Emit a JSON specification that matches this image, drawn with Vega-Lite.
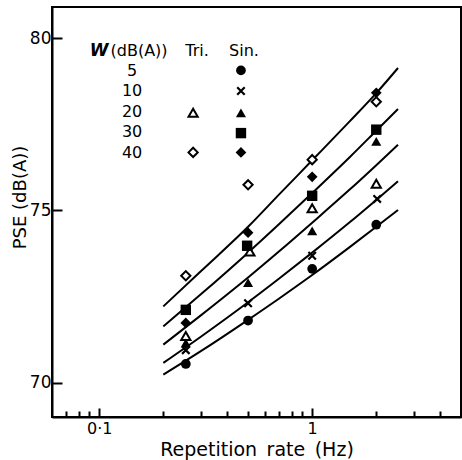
{
  "$schema": "https://vega.github.io/schema/vega-lite/v6.json",
  "width": 409,
  "height": 410,
  "autosize": {"type": "none"},
  "padding": {"left": 52, "top": 7, "right": 1, "bottom": 43},
  "background": "white",
  "config": {
    "view": {"stroke": "black", "strokeWidth": 2},
    "font": "DejaVu Sans",
    "axis": {"grid": false, "domainColor": "black", "domainWidth": 2, "tickColor": "black", "tickWidth": 2, "labelColor": "black", "titleColor": "black", "labelFont": "DejaVu Sans", "titleFont": "DejaVu Sans", "titleFontWeight": "normal"}
  },
  "resolve": {"scale": {"shape": "independent", "size": "independent"}},
  "datasets": {
    "lines": [
      {"f": 0.2, "pse": 72.21, "line": "L1"}, {"f": 0.3, "pse": 73.23, "line": "L1"}, {"f": 0.5, "pse": 74.52, "line": "L1"}, {"f": 0.7, "pse": 75.46, "line": "L1"}, {"f": 1, "pse": 76.45, "line": "L1"}, {"f": 1.5, "pse": 77.58, "line": "L1"}, {"f": 2, "pse": 78.4, "line": "L1"}, {"f": 2.53, "pse": 79.13, "line": "L1"},
      {"f": 0.2, "pse": 71.63, "line": "L2"}, {"f": 0.3, "pse": 72.56, "line": "L2"}, {"f": 0.5, "pse": 73.77, "line": "L2"}, {"f": 0.7, "pse": 74.6, "line": "L2"}, {"f": 1, "pse": 75.5, "line": "L2"}, {"f": 1.5, "pse": 76.54, "line": "L2"}, {"f": 2, "pse": 77.31, "line": "L2"}, {"f": 2.53, "pse": 77.94, "line": "L2"},
      {"f": 0.2, "pse": 71.1, "line": "L3"}, {"f": 0.3, "pse": 71.95, "line": "L3"}, {"f": 0.5, "pse": 73.05, "line": "L3"}, {"f": 0.7, "pse": 73.81, "line": "L3"}, {"f": 1, "pse": 74.64, "line": "L3"}, {"f": 1.5, "pse": 75.6, "line": "L3"}, {"f": 2, "pse": 76.31, "line": "L3"}, {"f": 2.53, "pse": 76.9, "line": "L3"},
      {"f": 0.2, "pse": 70.57, "line": "L4"}, {"f": 0.3, "pse": 71.33, "line": "L4"}, {"f": 0.5, "pse": 72.33, "line": "L4"}, {"f": 0.7, "pse": 73.02, "line": "L4"}, {"f": 1, "pse": 73.77, "line": "L4"}, {"f": 1.5, "pse": 74.65, "line": "L4"}, {"f": 2, "pse": 75.3, "line": "L4"}, {"f": 2.53, "pse": 75.84, "line": "L4"},
      {"f": 0.2, "pse": 70.23, "line": "L5"}, {"f": 0.3, "pse": 70.91, "line": "L5"}, {"f": 0.5, "pse": 71.82, "line": "L5"}, {"f": 0.7, "pse": 72.44, "line": "L5"}, {"f": 1, "pse": 73.12, "line": "L5"}, {"f": 1.5, "pse": 73.93, "line": "L5"}, {"f": 2, "pse": 74.52, "line": "L5"}, {"f": 2.53, "pse": 75.01, "line": "L5"}
    ],
    "tri": [
      {"f": 0.255, "pse": 73.1, "w": "40"}, {"f": 0.255, "pse": 71.35, "w": "20"},
      {"f": 0.5, "pse": 75.74, "w": "40"}, {"f": 0.51, "pse": 73.8, "w": "20"},
      {"f": 1, "pse": 76.47, "w": "40"}, {"f": 1, "pse": 75.06, "w": "20"},
      {"f": 2, "pse": 78.15, "w": "40"}, {"f": 2, "pse": 75.77, "w": "20"},
      {"f": 0.276, "pse": 77.83, "w": "20"}, {"f": 0.276, "pse": 76.68, "w": "40"}
    ],
    "sin": [
      {"f": 0.255, "pse": 72.11, "w": "30"}, {"f": 0.255, "pse": 71.73, "w": "40"}, {"f": 0.255, "pse": 71.15, "w": "20"}, {"f": 0.255, "pse": 70.54, "w": "5"},
      {"f": 0.5, "pse": 74.35, "w": "40"}, {"f": 0.495, "pse": 73.97, "w": "30"}, {"f": 0.5, "pse": 72.9, "w": "20"}, {"f": 0.5, "pse": 71.8, "w": "5"},
      {"f": 1, "pse": 75.97, "w": "40"}, {"f": 1, "pse": 75.42, "w": "30"}, {"f": 1, "pse": 74.4, "w": "20"}, {"f": 1, "pse": 73.3, "w": "5"},
      {"f": 2, "pse": 78.41, "w": "40"}, {"f": 2, "pse": 77.34, "w": "30"}, {"f": 2, "pse": 77.0, "w": "20"}, {"f": 2, "pse": 74.58, "w": "5"},
      {"f": 0.463, "pse": 79.06, "w": "5"}, {"f": 0.463, "pse": 77.83, "w": "20"}, {"f": 0.463, "pse": 77.24, "w": "30"}, {"f": 0.463, "pse": 76.68, "w": "40"}
    ],
    "cross": [
      {"f": 0.255, "pse": 70.94}, {"f": 0.5, "pse": 72.3}, {"f": 1, "pse": 73.68}, {"f": 2.02, "pse": 75.33}, {"f": 0.463, "pse": 78.46}
    ],
    "legtext": [
      {"f": 0.1538, "pse": 79.61, "txt": "(dB(A))"},
      {"f": 0.288, "pse": 79.61, "txt": "Tri."},
      {"f": 0.4786, "pse": 79.61, "txt": "Sin."},
      {"f": 0.1426, "pse": 79.03, "txt": "5"},
      {"f": 0.1426, "pse": 78.45, "txt": "10"},
      {"f": 0.1426, "pse": 77.84, "txt": "20"},
      {"f": 0.1426, "pse": 77.26, "txt": "30"},
      {"f": 0.1426, "pse": 76.67, "txt": "40"}
    ],
    "legw": [{"f": 0.0998, "pse": 79.61, "txt": "W"}]
  },
  "encoding": {
    "x": {"field": "f", "type": "quantitative", "scale": {"type": "log", "domain": [0.06, 5], "nice": false},
      "axis": {"title": "Repetition\u2002rate\u2002(Hz)", "titleFontSize": 19, "titlePadding": 1,
        "values": [0.07, 0.08, 0.09, 0.1, 0.2, 0.3, 0.4, 0.5, 0.6, 0.7, 0.8, 0.9, 1, 2, 3, 4],
        "labelExpr": "datum.value == 0.1 ? '0·1' : (datum.value == 1 ? '1' : '')",
        "labelFontSize": 16, "labelPadding": 12, "labelFlush": false, "labelOverlap": false,
        "tickSize": {"condition": {"test": "datum.value == 0.1 || datum.value == 1", "value": -9}, "value": -6}}},
    "y": {"field": "pse", "type": "quantitative", "scale": {"domain": [69, 80.9], "nice": false, "zero": false},
      "axis": {"title": "PSE (dB(A))", "titleFontSize": 18, "values": [70, 75, 80], "tickSize": -10, "labelPadding": 11,
        "labelFontSize": 17, "titleX": -32, "titleY": 190, "titleAngle": -90, "titleBaseline": "middle", "titleAlign": "center"}}
  },
  "layer": [
    {"data": {"name": "lines"}, "mark": {"type": "line", "color": "black", "strokeWidth": 2, "interpolate": "monotone"},
      "encoding": {"detail": {"field": "line"}}},
    {"data": {"name": "tri"}, "mark": {"type": "point", "filled": false, "stroke": "black", "fill": "white", "fillOpacity": 1, "strokeWidth": 2, "opacity": 1},
      "encoding": {"shape": {"field": "w", "type": "nominal", "scale": {"domain": ["20", "40"], "range": ["triangle-up", "diamond"]}, "legend": null},
        "size": {"field": "w", "type": "nominal", "scale": {"domain": ["20", "40"], "range": [85, 85]}, "legend": null}}},
    {"data": {"name": "sin"}, "mark": {"type": "point", "filled": true, "color": "black", "opacity": 1},
      "encoding": {"shape": {"field": "w", "type": "nominal", "scale": {"domain": ["5", "20", "30", "40"], "range": ["circle", "triangle-up", "square", "diamond"]}, "legend": null},
        "size": {"field": "w", "type": "nominal", "scale": {"domain": ["5", "20", "30", "40"], "range": [95, 115, 58, 125]}, "legend": null}}},
    {"data": {"name": "cross"}, "mark": {"type": "point", "shape": "M-1,-1L1,1M-1,1L1,-1", "filled": false, "stroke": "black", "strokeWidth": 2.2, "size": 56, "opacity": 1}},
    {"data": {"name": "legtext"}, "mark": {"type": "text", "fontSize": 16, "color": "black", "font": "DejaVu Sans"},
      "encoding": {"text": {"field": "txt"}}},
    {"data": {"name": "legw"}, "mark": {"type": "text", "fontSize": 17, "color": "black", "fontStyle": "italic", "fontWeight": "bold", "font": "DejaVu Sans"},
      "encoding": {"text": {"field": "txt"}}}
  ]
}
